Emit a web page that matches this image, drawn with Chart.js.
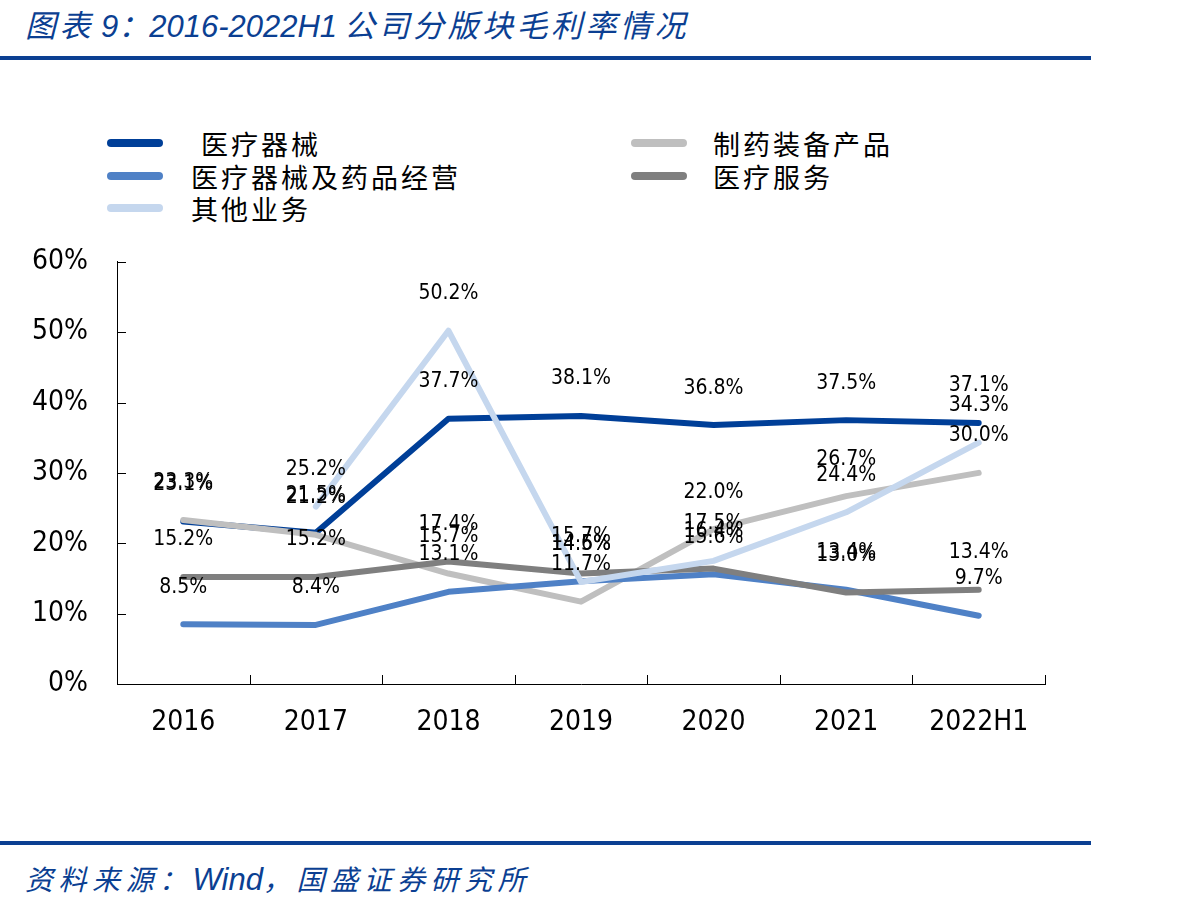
<!DOCTYPE html>
<html>
<head>
<meta charset="utf-8">
<script src="https://cdn.jsdelivr.net/npm/chart.js@4/dist/chart.umd.min.js"></script>
<style>
  html, body { margin: 0; padding: 0; background: #fff; }
  body { width: 1193px; height: 913px; position: relative; overflow: hidden; }
  #title { position: absolute; left: 25px; top: 1px; font-family: "Noto Sans CJK SC", sans-serif; font-style: italic; font-size: 31px; color: #0B3F92; white-space: nowrap; }
  #title .cn { letter-spacing: 3.5px; }
  #title .num { font-family: "Liberation Sans", sans-serif; font-weight: normal; letter-spacing: 0px; }
  .rule { position: absolute; left: 0; width: 1091px; height: 4px; background: #0B3F92; }
  #source { position: absolute; left: 25px; top: 858px; font-family: "Noto Sans CJK SC", sans-serif; font-style: italic; font-size: 28px; color: #0B3F92; white-space: nowrap; letter-spacing: 5.5px; }
  #source .num { font-family: "Liberation Sans", sans-serif; letter-spacing: 0; font-size: 31px; }
  .leg { position: absolute; height: 30px; display: flex; align-items: center; font-family: "Noto Sans CJK SC", sans-serif; font-size: 27px; letter-spacing: 3px; color: #000; white-space: nowrap; }
  .leg .sw { display: inline-block; width: 56px; height: 8px; border-radius: 4px; }
  #wrap { position: absolute; left: 0; top: 216px; width: 1100px; height: 544px; }
</style>
</head>
<body>
<div id="title"><span class="cn">图表</span> <span class="num">9</span>：<span class="num">2016-2022H1</span> <span class="cn">公司分版块毛利率情况</span></div>
<div class="rule" style="top:56px"></div>
<div id="legend"></div>
<div id="wrap"><canvas id="c" width="1100" height="544"></canvas></div>
<div class="rule" style="top:841px"></div>
<div id="source">资料来源：<span class="num">Wind</span>，国盛证券研究所</div>
<script>
// ---- data ----
const categories = ['2016', '2017', '2018', '2019', '2020', '2021', '2022H1'];
const seriesNames = ['医疗器械', '制药装备产品', '医疗器械及药品经营', '医疗服务', '其他业务'];
const medicalDevices = [23.1, 21.5, 37.7, 38.1, 36.8, 37.5, 37.1];
const pharmaEquipment = [23.3, 21.2, 15.7, 11.7, 22.0, 26.7, 30.0];
const devicesAndDrugTrade = [8.5, 8.4, 13.1, 14.6, 15.6, 13.4, 9.7];
const medicalServices = [15.2, 15.2, 17.4, 15.7, 16.4, 13.0, 13.4];
const otherBusiness = [null, 25.2, 50.2, 14.5, 17.5, 24.4, 34.3];
const yTickValues = [0, 10, 20, 30, 40, 50, 60];

const seriesValues = [medicalDevices, pharmaEquipment, devicesAndDrugTrade, medicalServices, otherBusiness];
const seriesColors = ['#003F98', '#BFBFBF', '#4F81C6', '#7F7F7F', '#C5D7EE'];

// ---- legend (HTML) ----
const legendSlots = [
  { left: 107, top: 128, textGap: 38 },
  { left: 631, top: 128, textGap: 26 },
  { left: 107, top: 161, textGap: 28 },
  { left: 631, top: 161, textGap: 26 },
  { left: 107, top: 193, textGap: 28 }
];
const legendEl = document.getElementById('legend');
seriesNames.forEach((name, i) => {
  const s = legendSlots[i];
  const d = document.createElement('div');
  d.className = 'leg';
  d.style.left = s.left + 'px';
  d.style.top = s.top + 'px';
  const sw = document.createElement('span');
  sw.className = 'sw';
  sw.style.background = seriesColors[i];
  sw.style.marginRight = s.textGap + 'px';
  const t = document.createElement('span');
  t.textContent = name;
  d.appendChild(sw);
  d.appendChild(t);
  legendEl.appendChild(d);
});

// ---- plugins ----
const innerTicks = {
  id: 'innerTicks',
  beforeDatasetsDraw(chart) {
    const { ctx, scales: { x, y }, chartArea } = chart;
    ctx.save();
    ctx.strokeStyle = '#000';
    ctx.lineWidth = 1;
    ctx.beginPath();
    yTickValues.forEach(v => {
      const py = Math.round(y.getPixelForValue(v)) + 0.5;
      ctx.moveTo(chartArea.left, py);
      ctx.lineTo(chartArea.left + 9, py);
    });
    const n = categories.length;
    const w = (x.right - x.left) / n;
    for (let i = 1; i <= n; i++) {
      const px = Math.round(x.left + i * w) + 0.5;
      ctx.moveTo(px, chartArea.bottom);
      ctx.lineTo(px, chartArea.bottom - 9);
    }
    ctx.stroke();
    ctx.restore();
  }
};

const valueLabels = {
  id: 'valueLabels',
  afterDatasetsDraw(chart) {
    const { ctx } = chart;
    ctx.save();
    ctx.font = '21px "DejaVu Sans Condensed", "DejaVu Sans", sans-serif';
    ctx.fillStyle = '#000';
    ctx.textAlign = 'center';
    ctx.textBaseline = 'middle';
    chart.data.datasets.forEach((ds, di) => {
      const meta = chart.getDatasetMeta(di);
      meta.data.forEach((pt, i) => {
        const v = ds.data[i];
        if (v === null || v === undefined) return;
        ctx.fillText(v.toFixed(1) + '%', pt.x, pt.y - 37);
      });
    });
    ctx.restore();
  }
};

// ---- chart ----
const tickFont = { family: '"DejaVu Sans Condensed", "DejaVu Sans", sans-serif', size: 28 };
new Chart(document.getElementById('c'), {
  type: 'line',
  data: {
    labels: categories,
    datasets: seriesNames.map((name, i) => ({
      label: name,
      data: seriesValues[i],
      borderColor: seriesColors[i],
      backgroundColor: seriesColors[i],
      borderWidth: 6,
      borderCapStyle: 'round',
      borderJoinStyle: 'round',
      pointRadius: 0,
      pointHoverRadius: 0,
      tension: 0,
      spanGaps: false,
      order: -i
    }))
  },
  options: {
    responsive: false,
    animation: false,
    devicePixelRatio: 1,
    layout: { padding: { top: 17, right: 55, left: 0, bottom: 0 } },
    plugins: { legend: { display: false }, tooltip: { enabled: false } },
    scales: {
      x: {
        type: 'category',
        offset: true,
        grid: { display: false, drawTicks: false },
        border: { display: true, color: '#000', width: 1 },
        ticks: { font: tickFont, color: '#000', padding: 22, maxRotation: 0, autoSkip: false },
        afterFit(s) { s.height = 76; }
      },
      y: {
        min: 0,
        max: 60,
        grid: { display: false, drawTicks: false },
        border: { display: true, color: '#000', width: 1 },
        ticks: {
          stepSize: 10,
          font: tickFont,
          color: '#000',
          padding: 29,
          callback: v => v + '%'
        },
        afterBuildTicks(s) { s.ticks = yTickValues.map(v => ({ value: v })); },
        afterFit(s) { s.width = 117; }
      }
    }
  },
  plugins: [innerTicks, valueLabels]
});
</script>
</body>
</html>
